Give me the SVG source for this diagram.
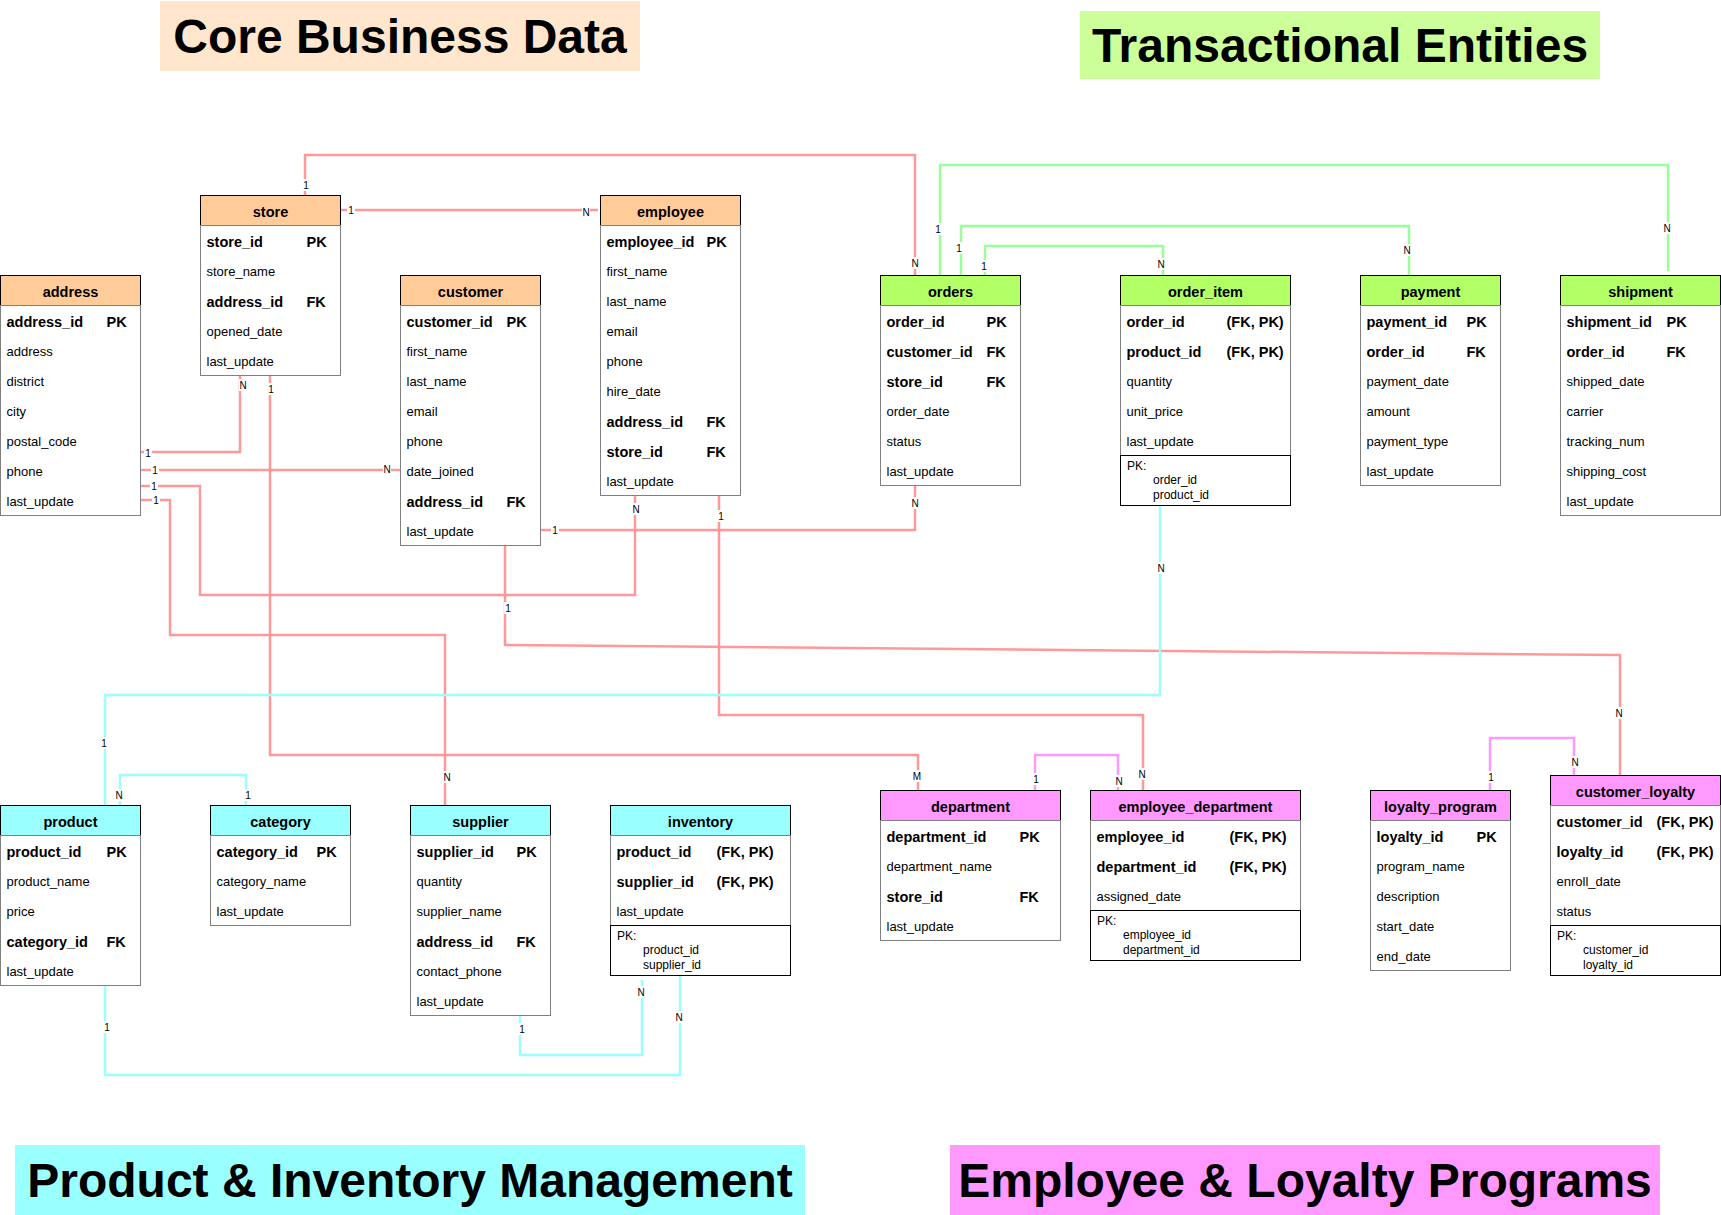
<svg xmlns="http://www.w3.org/2000/svg" width="1721" height="1215" viewBox="0 0 1721 1215">
<style>
text{font-family:"Liberation Sans",Arial,Helvetica,sans-serif;fill:#000}
.r{font-size:13px}
.b{font-size:14.5px;font-weight:bold}
.h{font-size:14.5px;font-weight:bold;text-anchor:middle}
.s{font-size:12px}
.title{font-size:48px;font-weight:bold;text-anchor:middle}
.lbl{font-size:10px;text-anchor:middle}
.lb{fill:#fff}
.body{fill:#fff;stroke:#808080;stroke-width:1}
.pk{fill:#fff;stroke:#000;stroke-width:1}
.hd{stroke:#000;stroke-width:1}
.or{fill:#FFCC99}.gr{fill:#B3FF66}.cy{fill:#99FFFF}.pi{fill:#FF99FF}
.c{fill:none;stroke-width:2.5}
.cr{stroke:#FF9999}.cg{stroke:#99FF99}.cc{stroke:#99FFFF}.cp{stroke:#FF99FF}
</style>

<g id="titles">
<rect x="160" y="1" width="480" height="70" fill="#FFE6CC"/>
<text class="title" x="400" y="53">Core Business Data</text>
<rect x="1080" y="11" width="520" height="68" fill="#CCFF99"/>
<text class="title" x="1340" y="62">Transactional Entities</text>
<rect x="15" y="1145" width="790" height="70" fill="#99FFFF"/>
<text class="title" x="410" y="1197">Product &amp; Inventory Management</text>
<rect x="950" y="1145" width="710" height="70" fill="#FF99FF"/>
<text class="title" x="1305" y="1197">Employee &amp; Loyalty Programs</text>
</g>

<g id="connectors">
<path class="c cr" d="M305,195 V155 H915 V275"/>
<path class="c cr" d="M340,210 H598"/>
<path class="c cr" d="M140,452 H240 V376"/>
<path class="c cr" d="M140,470 H400"/>
<path class="c cr" d="M140,486 H200 V595 H635 V496"/>
<path class="c cr" d="M140,500 H170 V635 H445 V805"/>
<path class="c cr" d="M270,376 V755 H918 V790"/>
<path class="c cr" d="M540,530 H915 V486"/>
<path class="c cr" d="M505,546 V645 L1620,655 V775"/>
<path class="c cr" d="M719,496 V715 H1143 V790"/>
<path class="c cg" d="M940,275 V165 H1668 V271"/>
<path class="c cg" d="M961,275 V226 H1409 V275"/>
<path class="c cg" d="M985,275 V246 H1163 V275"/>
<path class="c cc" d="M1160,506 V695 H105 V805"/>
<path class="c cc" d="M120,805 V775 H246 V805"/>
<path class="c cc" d="M105,986 V1075 H680 V976"/>
<path class="c cc" d="M520,1016 V1055 H642 V980"/>
<path class="c cp" d="M1035,790 V755 H1118 V790"/>
<path class="c cp" d="M1490,790 V738 H1574 V775"/>
<g id="labels">
<rect class="lb" x="302" y="179" width="8" height="12"/><text class="lbl" x="306" y="188.5">1</text>
<rect class="lb" x="911" y="257" width="8" height="12"/><text class="lbl" x="915" y="266.5">N</text>
<rect class="lb" x="347" y="204" width="8" height="12"/><text class="lbl" x="351" y="213.5">1</text>
<rect class="lb" x="582" y="206" width="8" height="12"/><text class="lbl" x="586" y="215.5">N</text>
<rect class="lb" x="144" y="447" width="8" height="12"/><text class="lbl" x="148" y="456.5">1</text>
<rect class="lb" x="239" y="379" width="8" height="12"/><text class="lbl" x="243" y="388.5">N</text>
<rect class="lb" x="151" y="464" width="8" height="12"/><text class="lbl" x="155" y="473.5">1</text>
<rect class="lb" x="383" y="463" width="8" height="12"/><text class="lbl" x="387" y="472.5">N</text>
<rect class="lb" x="150" y="480" width="8" height="12"/><text class="lbl" x="154" y="489.5">1</text>
<rect class="lb" x="632" y="503" width="8" height="12"/><text class="lbl" x="636" y="512.5">N</text>
<rect class="lb" x="152" y="494" width="8" height="12"/><text class="lbl" x="156" y="503.5">1</text>
<rect class="lb" x="443" y="771" width="8" height="12"/><text class="lbl" x="447" y="780.5">N</text>
<rect class="lb" x="267" y="383" width="8" height="12"/><text class="lbl" x="271" y="392.5">1</text>
<rect class="lb" x="912" y="770" width="10" height="12"/><text class="lbl" x="917" y="779.5">M</text>
<rect class="lb" x="551" y="524" width="8" height="12"/><text class="lbl" x="555" y="533.5">1</text>
<rect class="lb" x="911" y="497" width="8" height="12"/><text class="lbl" x="915" y="506.5">N</text>
<rect class="lb" x="504" y="602" width="8" height="12"/><text class="lbl" x="508" y="611.5">1</text>
<rect class="lb" x="1615" y="707" width="8" height="12"/><text class="lbl" x="1619" y="716.5">N</text>
<rect class="lb" x="717" y="510" width="8" height="12"/><text class="lbl" x="721" y="519.5">1</text>
<rect class="lb" x="1138" y="768" width="8" height="12"/><text class="lbl" x="1142" y="777.5">N</text>
<rect class="lb" x="934" y="223" width="8" height="12"/><text class="lbl" x="938" y="232.5">1</text>
<rect class="lb" x="1663" y="222" width="8" height="12"/><text class="lbl" x="1667" y="231.5">N</text>
<rect class="lb" x="955" y="242" width="8" height="12"/><text class="lbl" x="959" y="251.5">1</text>
<rect class="lb" x="1403" y="244" width="8" height="12"/><text class="lbl" x="1407" y="253.5">N</text>
<rect class="lb" x="980" y="260" width="8" height="12"/><text class="lbl" x="984" y="269.5">1</text>
<rect class="lb" x="1157" y="258" width="8" height="12"/><text class="lbl" x="1161" y="267.5">N</text>
<rect class="lb" x="1157" y="562" width="8" height="12"/><text class="lbl" x="1161" y="571.5">N</text>
<rect class="lb" x="100" y="737" width="8" height="12"/><text class="lbl" x="104" y="746.5">1</text>
<rect class="lb" x="115" y="789" width="8" height="12"/><text class="lbl" x="119" y="798.5">N</text>
<rect class="lb" x="244" y="789" width="8" height="12"/><text class="lbl" x="248" y="798.5">1</text>
<rect class="lb" x="103" y="1021" width="8" height="12"/><text class="lbl" x="107" y="1030.5">1</text>
<rect class="lb" x="675" y="1011" width="8" height="12"/><text class="lbl" x="679" y="1020.5">N</text>
<rect class="lb" x="518" y="1023" width="8" height="12"/><text class="lbl" x="522" y="1032.5">1</text>
<rect class="lb" x="637" y="986" width="8" height="12"/><text class="lbl" x="641" y="995.5">N</text>
<rect class="lb" x="1032" y="773" width="8" height="12"/><text class="lbl" x="1036" y="782.5">1</text>
<rect class="lb" x="1115" y="775" width="8" height="12"/><text class="lbl" x="1119" y="784.5">N</text>
<rect class="lb" x="1487" y="771" width="8" height="12"/><text class="lbl" x="1491" y="780.5">1</text>
<rect class="lb" x="1571" y="756" width="8" height="12"/><text class="lbl" x="1575" y="765.5">N</text>
</g>
</g>

<g id="address" transform="translate(0.5 0.5)">
<rect class="hd or" x="0" y="275" width="140" height="30"/>
<text class="h" x="70" y="296">address</text>
<rect class="body" x="0" y="305" width="140" height="210"/>
<text class="b" x="6" y="326">address_id</text><text class="b" x="106" y="326">PK</text>
<text class="r" x="6" y="355">address</text>
<text class="r" x="6" y="385">district</text>
<text class="r" x="6" y="415">city</text>
<text class="r" x="6" y="445">postal_code</text>
<text class="r" x="6" y="475">phone</text>
<text class="r" x="6" y="505">last_update</text>
</g>

<g id="store" transform="translate(0.5 0.5)">
<rect class="hd or" x="200" y="195" width="140" height="30"/>
<text class="h" x="270" y="216">store</text>
<rect class="body" x="200" y="225" width="140" height="150"/>
<text class="b" x="206" y="246">store_id</text><text class="b" x="306" y="246">PK</text>
<text class="r" x="206" y="275">store_name</text>
<text class="b" x="206" y="306">address_id</text><text class="b" x="306" y="306">FK</text>
<text class="r" x="206" y="335">opened_date</text>
<text class="r" x="206" y="365">last_update</text>
</g>

<g id="customer" transform="translate(0.5 0.5)">
<rect class="hd or" x="400" y="275" width="140" height="30"/>
<text class="h" x="470" y="296">customer</text>
<rect class="body" x="400" y="305" width="140" height="240"/>
<text class="b" x="406" y="326">customer_id</text><text class="b" x="506" y="326">PK</text>
<text class="r" x="406" y="355">first_name</text>
<text class="r" x="406" y="385">last_name</text>
<text class="r" x="406" y="415">email</text>
<text class="r" x="406" y="445">phone</text>
<text class="r" x="406" y="475">date_joined</text>
<text class="b" x="406" y="506">address_id</text><text class="b" x="506" y="506">FK</text>
<text class="r" x="406" y="535">last_update</text>
</g>

<g id="employee" transform="translate(0.5 0.5)">
<rect class="hd or" x="600" y="195" width="140" height="30"/>
<text class="h" x="670" y="216">employee</text>
<rect class="body" x="600" y="225" width="140" height="270"/>
<text class="b" x="606" y="246">employee_id</text><text class="b" x="706" y="246">PK</text>
<text class="r" x="606" y="275">first_name</text>
<text class="r" x="606" y="305">last_name</text>
<text class="r" x="606" y="335">email</text>
<text class="r" x="606" y="365">phone</text>
<text class="r" x="606" y="395">hire_date</text>
<text class="b" x="606" y="426">address_id</text><text class="b" x="706" y="426">FK</text>
<text class="b" x="606" y="456">store_id</text><text class="b" x="706" y="456">FK</text>
<text class="r" x="606" y="485">last_update</text>
</g>

<g id="orders" transform="translate(0.5 0.5)">
<rect class="hd gr" x="880" y="275" width="140" height="30"/>
<text class="h" x="950" y="296">orders</text>
<rect class="body" x="880" y="305" width="140" height="180"/>
<text class="b" x="886" y="326">order_id</text><text class="b" x="986" y="326">PK</text>
<text class="b" x="886" y="356">customer_id</text><text class="b" x="986" y="356">FK</text>
<text class="b" x="886" y="386">store_id</text><text class="b" x="986" y="386">FK</text>
<text class="r" x="886" y="415">order_date</text>
<text class="r" x="886" y="445">status</text>
<text class="r" x="886" y="475">last_update</text>
</g>

<g id="order_item" transform="translate(0.5 0.5)">
<rect class="hd gr" x="1120" y="275" width="170" height="30"/>
<text class="h" x="1205" y="296">order_item</text>
<rect class="body" x="1120" y="305" width="170" height="150"/>
<text class="b" x="1126" y="326">order_id</text><text class="b" x="1226" y="326">(FK, PK)</text>
<text class="b" x="1126" y="356">product_id</text><text class="b" x="1226" y="356">(FK, PK)</text>
<text class="r" x="1126" y="385">quantity</text>
<text class="r" x="1126" y="415">unit_price</text>
<text class="r" x="1126" y="445">last_update</text>
<rect class="pk" x="1120" y="455" width="170" height="50"/>
<text class="s" x="1126.5" y="469">PK:</text>
<text class="s" x="1152.5" y="483.5">order_id</text>
<text class="s" x="1152.5" y="498">product_id</text>
</g>

<g id="payment" transform="translate(0.5 0.5)">
<rect class="hd gr" x="1360" y="275" width="140" height="30"/>
<text class="h" x="1430" y="296">payment</text>
<rect class="body" x="1360" y="305" width="140" height="180"/>
<text class="b" x="1366" y="326">payment_id</text><text class="b" x="1466" y="326">PK</text>
<text class="b" x="1366" y="356">order_id</text><text class="b" x="1466" y="356">FK</text>
<text class="r" x="1366" y="385">payment_date</text>
<text class="r" x="1366" y="415">amount</text>
<text class="r" x="1366" y="445">payment_type</text>
<text class="r" x="1366" y="475">last_update</text>
</g>

<g id="shipment" transform="translate(0.5 0.5)">
<rect class="hd gr" x="1560" y="275" width="160" height="30"/>
<text class="h" x="1640" y="296">shipment</text>
<rect class="body" x="1560" y="305" width="160" height="210"/>
<text class="b" x="1566" y="326">shipment_id</text><text class="b" x="1666" y="326">PK</text>
<text class="b" x="1566" y="356">order_id</text><text class="b" x="1666" y="356">FK</text>
<text class="r" x="1566" y="385">shipped_date</text>
<text class="r" x="1566" y="415">carrier</text>
<text class="r" x="1566" y="445">tracking_num</text>
<text class="r" x="1566" y="475">shipping_cost</text>
<text class="r" x="1566" y="505">last_update</text>
</g>

<g id="product" transform="translate(0.5 0.5)">
<rect class="hd cy" x="0" y="805" width="140" height="30"/>
<text class="h" x="70" y="826">product</text>
<rect class="body" x="0" y="835" width="140" height="150"/>
<text class="b" x="6" y="856">product_id</text><text class="b" x="106" y="856">PK</text>
<text class="r" x="6" y="885">product_name</text>
<text class="r" x="6" y="915">price</text>
<text class="b" x="6" y="946">category_id</text><text class="b" x="106" y="946">FK</text>
<text class="r" x="6" y="975">last_update</text>
</g>

<g id="category" transform="translate(0.5 0.5)">
<rect class="hd cy" x="210" y="805" width="140" height="30"/>
<text class="h" x="280" y="826">category</text>
<rect class="body" x="210" y="835" width="140" height="90"/>
<text class="b" x="216" y="856">category_id</text><text class="b" x="316" y="856">PK</text>
<text class="r" x="216" y="885">category_name</text>
<text class="r" x="216" y="915">last_update</text>
</g>

<g id="supplier" transform="translate(0.5 0.5)">
<rect class="hd cy" x="410" y="805" width="140" height="30"/>
<text class="h" x="480" y="826">supplier</text>
<rect class="body" x="410" y="835" width="140" height="180"/>
<text class="b" x="416" y="856">supplier_id</text><text class="b" x="516" y="856">PK</text>
<text class="r" x="416" y="885">quantity</text>
<text class="r" x="416" y="915">supplier_name</text>
<text class="b" x="416" y="946">address_id</text><text class="b" x="516" y="946">FK</text>
<text class="r" x="416" y="975">contact_phone</text>
<text class="r" x="416" y="1005">last_update</text>
</g>

<g id="inventory" transform="translate(0.5 0.5)">
<rect class="hd cy" x="610" y="805" width="180" height="30"/>
<text class="h" x="700" y="826">inventory</text>
<rect class="body" x="610" y="835" width="180" height="90"/>
<text class="b" x="616" y="856">product_id</text><text class="b" x="716" y="856">(FK, PK)</text>
<text class="b" x="616" y="886">supplier_id</text><text class="b" x="716" y="886">(FK, PK)</text>
<text class="r" x="616" y="915">last_update</text>
<rect class="pk" x="610" y="925" width="180" height="50"/>
<text class="s" x="616.5" y="939">PK:</text>
<text class="s" x="642.5" y="953.5">product_id</text>
<text class="s" x="642.5" y="968">supplier_id</text>
</g>

<g id="department" transform="translate(0.5 0.5)">
<rect class="hd pi" x="880" y="790" width="180" height="30"/>
<text class="h" x="970" y="811">department</text>
<rect class="body" x="880" y="820" width="180" height="120"/>
<text class="b" x="886" y="841">department_id</text><text class="b" x="1019" y="841">PK</text>
<text class="r" x="886" y="870">department_name</text>
<text class="b" x="886" y="901">store_id</text><text class="b" x="1019" y="901">FK</text>
<text class="r" x="886" y="930">last_update</text>
</g>

<g id="employee_department" transform="translate(0.5 0.5)">
<rect class="hd pi" x="1090" y="790" width="210" height="30"/>
<text class="h" x="1195" y="811">employee_department</text>
<rect class="body" x="1090" y="820" width="210" height="90"/>
<text class="b" x="1096" y="841">employee_id</text><text class="b" x="1229" y="841">(FK, PK)</text>
<text class="b" x="1096" y="871">department_id</text><text class="b" x="1229" y="871">(FK, PK)</text>
<text class="r" x="1096" y="900">assigned_date</text>
<rect class="pk" x="1090" y="910" width="210" height="50"/>
<text class="s" x="1096.5" y="924">PK:</text>
<text class="s" x="1122.5" y="938.5">employee_id</text>
<text class="s" x="1122.5" y="953">department_id</text>
</g>

<g id="loyalty_program" transform="translate(0.5 0.5)">
<rect class="hd pi" x="1370" y="790" width="140" height="30"/>
<text class="h" x="1440" y="811">loyalty_program</text>
<rect class="body" x="1370" y="820" width="140" height="150"/>
<text class="b" x="1376" y="841">loyalty_id</text><text class="b" x="1476" y="841">PK</text>
<text class="r" x="1376" y="870">program_name</text>
<text class="r" x="1376" y="900">description</text>
<text class="r" x="1376" y="930">start_date</text>
<text class="r" x="1376" y="960">end_date</text>
</g>

<g id="customer_loyalty" transform="translate(0.5 0.5)">
<rect class="hd pi" x="1550" y="775" width="170" height="30"/>
<text class="h" x="1635" y="796">customer_loyalty</text>
<rect class="body" x="1550" y="805" width="170" height="120"/>
<text class="b" x="1556" y="826">customer_id</text><text class="b" x="1656" y="826">(FK, PK)</text>
<text class="b" x="1556" y="856">loyalty_id</text><text class="b" x="1656" y="856">(FK, PK)</text>
<text class="r" x="1556" y="885">enroll_date</text>
<text class="r" x="1556" y="915">status</text>
<rect class="pk" x="1550" y="925" width="170" height="50"/>
<text class="s" x="1556.5" y="939">PK:</text>
<text class="s" x="1582.5" y="953.5">customer_id</text>
<text class="s" x="1582.5" y="968">loyalty_id</text>
</g>
</svg>
